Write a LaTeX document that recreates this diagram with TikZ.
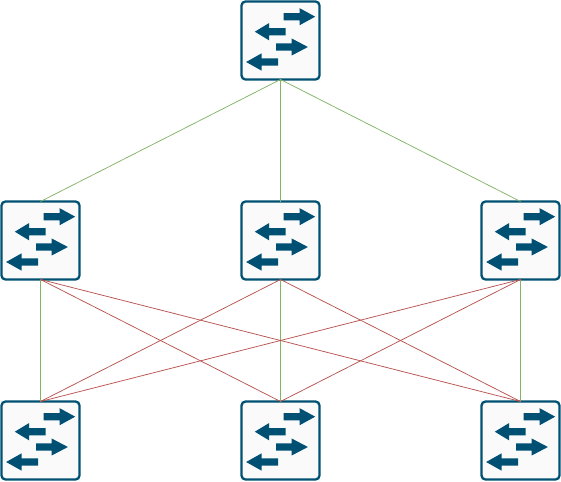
\documentclass[tikz,border=0pt]{standalone}
\definecolor{swblue}{HTML}{005073}
\definecolor{swfill}{HTML}{FAFAFA}
\definecolor{upl}{HTML}{82B366}
\definecolor{cross}{HTML}{B85450}
\tikzset{
  x=1pt,y=-1pt,
  switchbox/.style={draw=swblue,fill=swfill,line width=2.3pt,rounded corners=4pt,minimum width=78pt,minimum height=78pt,inner sep=0pt,outer sep=0pt},
  greenlink/.style={draw=upl,line width=0.75pt},
  redlink/.style={draw=cross,line width=0.75pt},
  swarrow/.style={fill=swblue,draw=none}
}
\newcommand{\swnode}[3]{%
  \node[switchbox] (#1) at (#2,#3) {};
  \begin{scope}[shift={(#1.center)}]
    \fill[swarrow] (3.2,-27.4) -- (19,-27.4) -- (19,-32.4) -- (34.7,-23.8) -- (19,-15.2) -- (19,-20.2) -- (3.2,-20.2) -- cycle;
    \fill[swarrow] (5.2,-12.4) -- (-11.5,-12.4) -- (-11.5,-17.4) -- (-25.7,-8.8) -- (-11.5,-0.2) -- (-11.5,-5.2) -- (5.2,-5.2) -- cycle;
    \fill[swarrow] (-4.5,2.9) -- (11,2.9) -- (11,-2.1) -- (27.4,6.5) -- (11,15.1) -- (11,10.1) -- (-4.5,10.1) -- cycle;
    \fill[swarrow] (-2.5,17.9) -- (-19,17.9) -- (-19,12.9) -- (-34.4,21.5) -- (-19,30.1) -- (-19,25.1) -- (-2.5,25.1) -- cycle;
  \end{scope}}
\begin{document}
\begin{tikzpicture}
\useasboundingbox (0,0) rectangle (561,481);
\swnode{top}{280.5}{40.5}
\swnode{ml}{40.5}{240.5}
\swnode{mc}{280.5}{240.5}
\swnode{mr}{520.5}{240.5}
\swnode{bl}{40.5}{440.5}
\swnode{bc}{280.5}{440.5}
\swnode{br}{520.5}{440.5}
\draw[greenlink] (top.south) -- (ml.north);
\draw[greenlink] (top.south) -- (mc.north);
\draw[greenlink] (top.south) -- (mr.north);
\draw[greenlink] (ml.south) -- (bl.north);
\draw[greenlink] (mc.south) -- (bc.north);
\draw[greenlink] (mr.south) -- (br.north);
\draw[redlink] (ml.south) -- (bc.north);
\draw[redlink] (ml.south) -- (br.north);
\draw[redlink] (mc.south) -- (bl.north);
\draw[redlink] (mc.south) -- (br.north);
\draw[redlink] (mr.south) -- (bl.north);
\draw[redlink] (mr.south) -- (bc.north);
\end{tikzpicture}
\end{document}
